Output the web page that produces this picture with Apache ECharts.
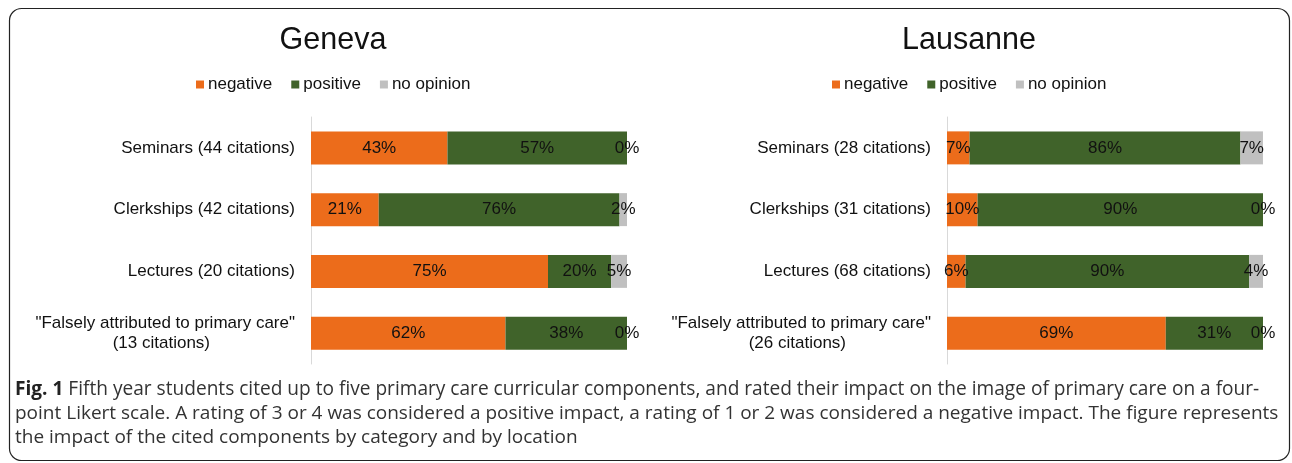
<!DOCTYPE html>
<html>
<head>
<meta charset="utf-8">
<script src="https://cdn.jsdelivr.net/npm/echarts@6/dist/echarts.min.js"></script>
<style>
html,body{margin:0;padding:0;background:#fff;}
#c{width:1292px;height:463px;}
</style>
</head>
<body>
<div id="c"></div>
<script>
const seriesNames = ['negative', 'positive', 'no opinion'];
const colors = ['#EC6C1B', '#40632A', '#C0C0C0'];

const genevaCategories = ['Seminars (44 citations)', 'Clerkships (42 citations)', 'Lectures (20 citations)', '"Falsely attributed to primary care"|(13 citations)'];
const genevaNegative = [43.18, 21.43, 75, 61.54];
const genevaPositive = [56.82, 76.19, 20, 38.46];
const genevaNoOpinion = [0, 2.38, 5, 0];

const lausanneCategories = ['Seminars (28 citations)', 'Clerkships (31 citations)', 'Lectures (68 citations)', '"Falsely attributed to primary care"|(26 citations)'];
const lausanneNegative = [7.14, 9.68, 5.88, 69.23];
const lausannePositive = [85.71, 90.32, 89.71, 30.77];
const lausanneNoOpinion = [7.14, 0, 4.41, 0];

const captionLines = [
  'Fifth year students cited up to five primary care curricular components, and rated their impact on the image of primary care on a four-',
  'point Likert scale. A rating of 3 or 4 was considered a positive impact, a rating of 1 or 2 was considered a negative impact. The figure represents',
  'the impact of the cited components by category and by location'
];

const chart = echarts.init(document.getElementById('c'));
const FONT = 'Arial, "Liberation Sans", sans-serif';
const CAPFONT = '"Open Sans", "Noto Sans", sans-serif';

function catLabel(v) {
  const parts = v.split('|');
  if (parts.length === 1) return parts[0];
  return parts[0] + '\n{b|' + parts[1] + '}';
}

function makeSeries(gi, dataSets) {
  return dataSets.map((d, i) => ({
    name: seriesNames[i],
    type: 'bar',
    stack: 'g' + gi,
    xAxisIndex: gi,
    yAxisIndex: gi,
    barWidth: 33,
    data: d,
    itemStyle: { color: colors[i] },
    label: {
      show: true,
      position: 'inside',
      color: '#111',
      fontSize: 17,
      fontFamily: FONT,
      formatter: p => Math.round(p.value) + '%'
    },
    emphasis: { disabled: true }
  }));
}

const grids = [
  { left: 311, width: 316, top: 117, height: 247 },
  { left: 947, width: 316, top: 117, height: 247 }
];

const legendBase = { data: seriesNames, top: 76, padding: 0, itemWidth: 8, itemHeight: 8, itemGap: 19, icon: 'rect',
  textStyle: { fontSize: 17, color: '#111', fontFamily: FONT, padding: [0, 0, 0, -1] } };

const option = {
  animation: false,
  title: [
    { text: 'Geneva', left: 328, top: 20, textAlign: 'center', textStyle: { fontSize: 30.5, fontWeight: 'normal', color: '#111', fontFamily: FONT } },
    { text: 'Lausanne', left: 964, top: 20, textAlign: 'center', textStyle: { fontSize: 30.5, fontWeight: 'normal', color: '#111', fontFamily: FONT } }
  ],
  legend: [
    Object.assign({}, legendBase, { left: 196 }),
    Object.assign({}, legendBase, { left: 832 })
  ],
  grid: grids,
  xAxis: [0, 1].map(i => ({ type: 'value', gridIndex: i, min: 0, max: 100, show: false })),
  yAxis: [genevaCategories, lausanneCategories].map((cats, i) => ({
    type: 'category',
    gridIndex: i,
    inverse: true,
    data: cats,
    axisLine: { show: true, lineStyle: { color: '#d9d9d9', width: 1 } },
    axisTick: { show: false },
    axisLabel: {
      margin: 16,
      fontSize: 17,
      color: '#111',
      fontFamily: FONT,
      lineHeight: 20,
      formatter: catLabel,
      rich: { b: { fontSize: 17, color: '#111', fontFamily: FONT, lineHeight: 20, padding: [0, 85, 0, 0] } }
    }
  })),
  series: [
    ...makeSeries(0, [genevaNegative, genevaPositive, genevaNoOpinion]),
    ...makeSeries(1, [lausanneNegative, lausannePositive, lausanneNoOpinion])
  ],
  graphic: [
    { type: 'rect', shape: { x: 9.5, y: 8.5, width: 1280, height: 452, r: 12 }, style: { fill: null, stroke: '#222', lineWidth: 1.2 }, silent: true, z: -1 },
    { type: 'text', left: 15, top: 380, style: {
        text: '{f|Fig. 1} ' + captionLines[0],
        font: '19.1px ' + CAPFONT, fill: '#333',
        rich: { f: { fontWeight: 'bold', fontSize: 19.1, fontFamily: CAPFONT, fill: '#222' } }
      } },
    { type: 'text', left: 15, top: 404, style: { text: captionLines[1], font: '19px ' + CAPFONT, fill: '#333' } },
    { type: 'text', left: 15, top: 428, style: { text: captionLines[2], font: '19px ' + CAPFONT, fill: '#333' } }
  ]
};
chart.setOption(option);
</script>
</body>
</html>
